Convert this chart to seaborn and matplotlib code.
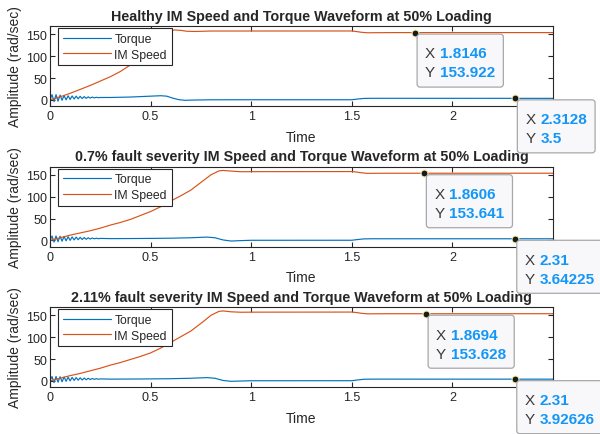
import matplotlib
matplotlib.use("Agg")
import matplotlib.pyplot as plt
import seaborn as sns
import pandas as pd
from matplotlib.patches import FancyBboxPatch
from matplotlib.transforms import IdentityTransform

# ---------------- data ----------------
titles = [
    "Healthy IM Speed and Torque Waveform at 50% Loading",
    "0.7% fault severity IM Speed and Torque Waveform at 50% Loading",
    "2.11% fault severity IM Speed and Torque Waveform at 50% Loading",
]
series_names = ["Torque", "IM Speed"]
x_ticks = [0, 0.5, 1, 1.5, 2]
x_tick_labels = ["0", "0.5", "1", "1.5", "2"]
y_ticks = [0, 50, 100, 150]
y_tick_labels = ["0", "50", "100", "150"]
x_label = "Time"
y_label = "Amplitude (rad/sec)"

# Healthy
torque_healthy_t = [0, .01, .02, .03, .04, .05, .06, .07, .08, .09, .10, .11, .12, .13,
                    .14, .15, .16, .17, .18, .19, .20, .21, .22, .23, .24, .25, .30, .40,
                    .50, .55, .58, .61, .64, .67, .70, .80, 1.0, 1.5, 1.53, 1.56, 1.60, 2.5]
torque_healthy_v = [0, 12, -4, 12, -3, 11, -1, 10, 0, 9.5, 1, 9, 2, 8.5, 2.5, 8, 3, 7.5,
                    3.5, 7, 4, 6.5, 4.5, 6, 5, 5.5, 5.5, 6.5, 8.5, 9.5, 8.5, 4, 0.5, -1,
                    -0.5, 0.2, 0.3, 0.3, 2, 3.3, 3.6, 3.5]
speed_healthy_t = [0, .05, .10, .15, .20, .25, .30, .35, .40, .45, .50, .55, .58, .60, .62,
                   .65, .68, .72, .80, 1.5, 1.52, 1.55, 1.58, 1.62, 1.70, 2.5]
speed_healthy_v = [0, 7, 15, 24, 33, 43, 53, 65, 80, 97, 115, 138, 153, 158, 160, 159,
                   157, 156.5, 157.5, 157.6, 156.5, 154.5, 153.5, 153.7, 153.9, 153.92]

# 0.7 % fault
torque_f07_t = [0, .01, .02, .03, .04, .05, .06, .07, .08, .09, .10, .11, .12, .13, .14,
                .15, .16, .17, .18, .19, .20, .21, .22, .23, .24, .25, .30, .40, .50, .60,
                .70, .78, .82, .86, .90, .95, 1.0, 1.5, 1.53, 1.56, 1.60, 2.5]
torque_f07_v = [0, 10, -4, 10, -3, 9.5, -2, 9, -1, 8.5, 0, 8, 1, 7.5, 1.5, 7, 2, 6.5, 2.5,
                6, 3, 5.5, 3.5, 5, 3.8, 4.5, 4, 4.2, 4.5, 5, 6, 7.5, 6, 1, -1.5, -0.5,
                0.2, 0.3, 2, 3.4, 3.7, 3.64]
speed_f07_t = [0, .05, .10, .15, .20, .25, .30, .35, .40, .45, .50, .55, .60, .65, .70,
               .76, .80, .84, .86, .90, .95, 1.0, 1.5, 1.52, 1.55, 1.58, 1.62, 1.70, 2.5]
speed_f07_v = [0, 6, 12, 17, 22, 28, 35, 41, 48, 57, 66, 77, 90, 102, 115, 136, 150,
               159, 160, 158.5, 157, 157.2, 157.4, 156.5, 154.5, 153.3, 153.5, 153.6, 153.64]

# 2.11 % fault
torque_f211_t = [0, .01, .02, .03, .04, .05, .06, .07, .08, .09, .10, .11, .12, .13, .14,
                 .15, .16, .17, .18, .19, .20, .21, .22, .23, .24, .25, .30, .40, .50, .60,
                 .70, .78, .82, .86, .90, .95, 1.0, 1.5, 1.53, 1.56, 1.60, 2.5]
torque_f211_v = [0, 10, -4, 10, -3, 9.5, -2, 9, -1, 8.5, 0, 8, 1, 7.5, 1.5, 7, 2, 6.5, 2.5,
                 6, 3, 5.5, 3.5, 5, 3.8, 4.5, 4, 4.2, 4.5, 5, 6, 7.5, 6, 1, -1, -0.3,
                 0.3, 0.4, 2.2, 3.7, 4.0, 3.93]
speed_f211_t = [0, .05, .10, .15, .20, .25, .30, .35, .40, .45, .50, .55, .60, .65, .70,
                .76, .80, .84, .86, .90, .95, 1.0, 1.5, 1.52, 1.55, 1.58, 1.62, 1.70, 2.5]
speed_f211_v = [0, 6, 12, 17, 23, 29, 36, 42, 49, 56, 64, 75, 88, 101, 114, 135, 150,
                159, 160, 158, 157, 157.2, 157.4, 156.5, 154.5, 153.3, 153.5, 153.6, 153.63]

# data tips: (x, y, x-text, y-text)
tips_speed = [(1.8146, 153.922, "1.8146", "153.922"),
              (1.8606, 153.641, "1.8606", "153.641"),
              (1.8694, 153.628, "1.8694", "153.628")]
tips_torque = [(2.3128, 3.5, "2.3128", "3.5"),
               (2.31, 3.64225, "2.31", "3.64225"),
               (2.31, 3.92626, "2.31", "3.92626")]

panels = [
    (torque_healthy_t, torque_healthy_v, speed_healthy_t, speed_healthy_v),
    (torque_f07_t, torque_f07_v, speed_f07_t, speed_f07_v),
    (torque_f211_t, torque_f211_v, speed_f211_t, speed_f211_v),
]

# ---------------- style ----------------
sns.set_style("ticks", rc={
    "axes.edgecolor": "#262626",
    "axes.linewidth": 0.8,
    "xtick.direction": "in",
    "ytick.direction": "in",
    "xtick.top": True,
    "ytick.right": True,
    "xtick.color": "#262626",
    "ytick.color": "#262626",
})
plt.rcParams["font.family"] = ["Liberation Sans", "DejaVu Sans"]

C_TORQUE = "#0072BD"
C_SPEED = "#D95319"
TIP_BLUE = "#1496F5"

W, H = 600, 435
fig = plt.figure(figsize=(W / 100, H / 100), dpi=100)
ax_left, ax_right = 50, 553
tops = [27, 167.5, 308]
ax_h = 80

axes = []
for i, top in enumerate(tops):
    ax = fig.add_axes([ax_left / W, 1 - (top + ax_h) / H,
                       (ax_right - ax_left) / W, ax_h / H])
    tt, tv, st, sv = panels[i]
    df_t = pd.DataFrame({"t": tt, "v": tv})
    df_s = pd.DataFrame({"t": st, "v": sv})
    sns.lineplot(data=df_t, x="t", y="v", ax=ax, color=C_TORQUE, lw=0.85,
                 label=series_names[0], estimator=None, sort=False)
    sns.lineplot(data=df_s, x="t", y="v", ax=ax, color=C_SPEED, lw=0.85,
                 label=series_names[1], estimator=None, sort=False)
    ax.set_xlim(0, 2.5)
    ax.set_ylim(-14, 169)
    ax.set_xticks(x_ticks)
    ax.set_xticklabels(x_tick_labels)
    ax.set_yticks(y_ticks)
    ax.set_yticklabels(y_tick_labels)
    ax.tick_params(axis="both", labelsize=9, length=3.5, width=0.8,
                   labelcolor="#262626")
    ax.tick_params(axis="x", pad=3)
    ax.tick_params(axis="y", pad=2)
    ax.set_xlabel(x_label, fontsize=10, color="#262626")
    ax.set_ylabel(y_label, fontsize=10, color="#262626")
    ax.xaxis.set_label_coords(0.5, -0.30)
    ax.yaxis.set_label_coords(-0.056, 0.5)
    ax.set_title(titles[i], fontsize=10.3, fontweight="bold", pad=4.5)
    leg = ax.legend(loc="upper left", bbox_to_anchor=(0.016, 0.975),
                    borderaxespad=0, fontsize=8.8, frameon=True, fancybox=False,
                    framealpha=1, edgecolor="#262626", handlelength=3.9,
                    handletextpad=0.3, borderpad=0.4, labelspacing=0.3)
    leg.get_frame().set_linewidth(0.8)
    axes.append(ax)

# ---------------- data tips ----------------
renderer = fig.canvas.get_renderer()
ident = IdentityTransform()


def datatip(ax, x, y, xs, ys):
    ax.plot([x], [y], "o", ms=5, mfc="#1a1a1a", mec="#f3eeb0", mew=0.8,
            clip_on=False, zorder=10)
    px, py = ax.transData.transform((x, y))
    left = px + 2
    top = py - 1.5
    bh = 53
    texts = []
    for label, val, base in (("X", xs, 23.3), ("Y", ys, 42.3)):
        fig.text(left + 8, top - base, label, transform=ident, fontsize=11,
                 color="#3a3a3a", ha="left", va="baseline", zorder=7)
        texts.append(fig.text(left + 23, top - base, val, transform=ident,
                              fontsize=11, fontweight="bold", color=TIP_BLUE,
                              ha="left", va="baseline", zorder=7))
    right = max(t.get_window_extent(renderer).x1 for t in texts) + 8
    box = FancyBboxPatch((left, top - bh), right - left, bh,
                         boxstyle="round,pad=0,rounding_size=3",
                         transform=ident, fc="#f8f8fb", ec="#a8a8a8", lw=0.9,
                         zorder=6)
    fig.add_artist(box)


for i, ax in enumerate(axes):
    datatip(ax, *tips_speed[i])
    datatip(ax, *tips_torque[i])

fig.savefig("out.png", dpi=100)
